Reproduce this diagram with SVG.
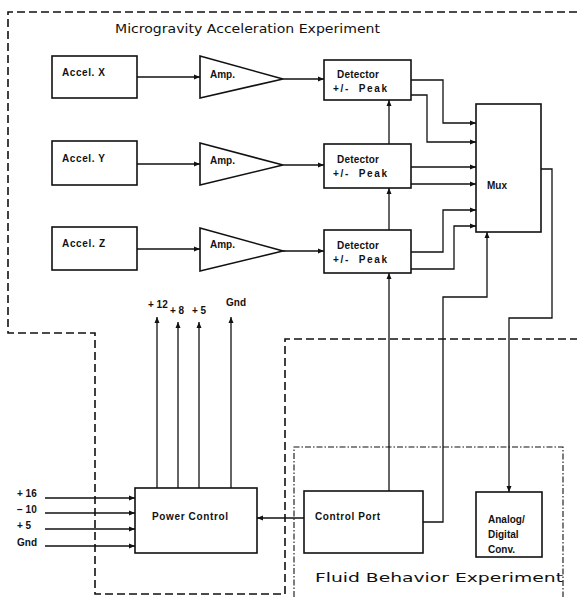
<svg xmlns="http://www.w3.org/2000/svg" width="577" height="597" viewBox="0 0 577 597">
  <defs>
    <marker id="arrow" markerUnits="userSpaceOnUse" markerWidth="7" markerHeight="6" refX="6" refY="3" orient="auto">
      <path d="M0,0.5 L6,3 L0,5.5 Z" fill="#111"/>
    </marker>
  </defs>
  <style>
    .box { fill: #fff; stroke: #111; stroke-width: 1.6; }
    .wire { fill: none; stroke: #111; stroke-width: 1.3; }
    .lbl { font-family: "Liberation Sans", Arial, sans-serif; font-size: 10px; font-weight: bold; fill: #111; }
    .title { font-family: "DejaVu Sans", "Liberation Sans", sans-serif; font-size: 13px; fill: #111; }
    .bound { fill: none; stroke: #111; stroke-width: 1.6; stroke-dasharray: 8 4; }
    .bound2 { fill: none; stroke: #111; stroke-width: 1.1; stroke-dasharray: 6 2 1.5 2; }
  </style>
  <rect width="577" height="597" fill="#fff"/>

  <!-- experiment boundaries -->
  <g id="boundaries">
    <path class="bound" d="M577,12 H8 V333 H95 V594 H285 V339 H577"/>
    <path class="bound2" d="M294,597 V447 H563 V597"/>
    <text class="title" x="115" y="33" textLength="265" lengthAdjust="spacingAndGlyphs">Microgravity Acceleration Experiment</text>
    <text class="title" x="315" y="582" font-size="14.5" textLength="248" lengthAdjust="spacingAndGlyphs">Fluid Behavior Experiment</text>
  </g>

  <!-- connectors -->
  <g id="connectors" class="wire">
    <path d="M137,77 H200" marker-end="url(#arrow)"/>
    <path d="M137,164 H200" marker-end="url(#arrow)"/>
    <path d="M137,249 H200" marker-end="url(#arrow)"/>
    <path d="M283,79 H324" marker-end="url(#arrow)"/>
    <path d="M283,165 H324" marker-end="url(#arrow)"/>
    <path d="M283,251 H324" marker-end="url(#arrow)"/>
    <path d="M411,80 H443 V123 H476" marker-end="url(#arrow)"/>
    <path d="M411,95 H427 V142 H476" marker-end="url(#arrow)"/>
    <path d="M411,167 H476" marker-end="url(#arrow)"/>
    <path d="M411,184 H476" marker-end="url(#arrow)"/>
    <path d="M411,252 H443 V210 H476" marker-end="url(#arrow)"/>
    <path d="M411,269 H454 V226 H476" marker-end="url(#arrow)"/>
    <path d="M423,522 H443 V297 H487 V232" marker-end="url(#arrow)"/>
    <path d="M541,169 H552 V318 H509 V492" marker-end="url(#arrow)"/>
    <path d="M389,491 V273" marker-end="url(#arrow)"/>
    <path d="M389,230 V188" marker-end="url(#arrow)"/>
    <path d="M389,144 V100" marker-end="url(#arrow)"/>
    <path d="M304,518 H257" marker-end="url(#arrow)"/>
    <path d="M45,498 H135" marker-end="url(#arrow)"/>
    <path d="M45,513 H135" marker-end="url(#arrow)"/>
    <path d="M45,529 H135" marker-end="url(#arrow)"/>
    <path d="M45,546 H135" marker-end="url(#arrow)"/>
    <path d="M157,488 V317" marker-end="url(#arrow)"/>
    <path d="M178,488 V322" marker-end="url(#arrow)"/>
    <path d="M199,488 V322" marker-end="url(#arrow)"/>
    <path d="M231,488 V317" marker-end="url(#arrow)"/>
  </g>

  <!-- supply labels -->
  <g id="supply-labels" class="lbl">
    <text x="17" y="497" xml:space="preserve">+ 16</text>
    <text x="17" y="513" xml:space="preserve">− 10</text>
    <text x="17" y="529" xml:space="preserve">+ 5</text>
    <text x="17" y="546">Gnd</text>
    <text x="148" y="308" xml:space="preserve">+ 12</text>
    <text x="170" y="314" xml:space="preserve">+ 8</text>
    <text x="192" y="314" xml:space="preserve">+ 5</text>
    <text x="226" y="306">Gnd</text>
  </g>

  <g id="accel-x">
    <rect class="box" x="52" y="56" width="85" height="42"/>
    <text class="lbl" x="62" y="76" textLength="43" lengthAdjust="spacing">Accel. X</text>
  </g>
  <g id="accel-y">
    <rect class="box" x="52" y="141" width="85" height="44"/>
    <text class="lbl" x="62" y="162" textLength="43" lengthAdjust="spacing">Accel. Y</text>
  </g>
  <g id="accel-z">
    <rect class="box" x="52" y="227" width="85" height="43"/>
    <text class="lbl" x="62" y="247" textLength="43" lengthAdjust="spacing">Accel. Z</text>
  </g>

  <g id="amp-x">
    <path class="box" d="M200,56 L283,79 L200,98 Z"/>
    <text class="lbl" x="210" y="78">Amp.</text>
  </g>
  <g id="amp-y">
    <path class="box" d="M200,143 L283,165 L200,185 Z"/>
    <text class="lbl" x="210" y="164">Amp.</text>
  </g>
  <g id="amp-z">
    <path class="box" d="M200,228 L283,251 L200,271 Z"/>
    <text class="lbl" x="210" y="248">Amp.</text>
  </g>

  <g id="detector-x">
    <rect class="box" x="324" y="60" width="87" height="40"/>
    <text class="lbl" x="337" y="78" textLength="42" lengthAdjust="spacing">Detector</text>
    <text class="lbl" x="333" y="92" textLength="54" lengthAdjust="spacing" xml:space="preserve">+/-  Peak</text>
  </g>
  <g id="detector-y">
    <rect class="box" x="324" y="144" width="87" height="44"/>
    <text class="lbl" x="337" y="163" textLength="42" lengthAdjust="spacing">Detector</text>
    <text class="lbl" x="333" y="177" textLength="54" lengthAdjust="spacing" xml:space="preserve">+/-  Peak</text>
  </g>
  <g id="detector-z">
    <rect class="box" x="324" y="230" width="87" height="43"/>
    <text class="lbl" x="337" y="249" textLength="42" lengthAdjust="spacing">Detector</text>
    <text class="lbl" x="333" y="263" textLength="54" lengthAdjust="spacing" xml:space="preserve">+/-  Peak</text>
  </g>

  <g id="mux">
    <rect class="box" x="476" y="104" width="65" height="128"/>
    <text class="lbl" x="487" y="189">Mux</text>
  </g>

  <g id="power-control">
    <rect class="box" x="135" y="488" width="122" height="65"/>
    <text class="lbl" x="152" y="520" textLength="76" lengthAdjust="spacing">Power Control</text>
  </g>

  <g id="control-port">
    <rect class="box" x="304" y="491" width="119" height="62"/>
    <text class="lbl" x="315" y="520" textLength="65" lengthAdjust="spacing">Control Port</text>
  </g>

  <g id="ad-conv">
    <rect class="box" x="476" y="492" width="66" height="65"/>
    <text class="lbl" x="488" y="523">Analog/</text>
    <text class="lbl" x="488" y="538">Digital</text>
    <text class="lbl" x="488" y="553">Conv.</text>
  </g>
</svg>
